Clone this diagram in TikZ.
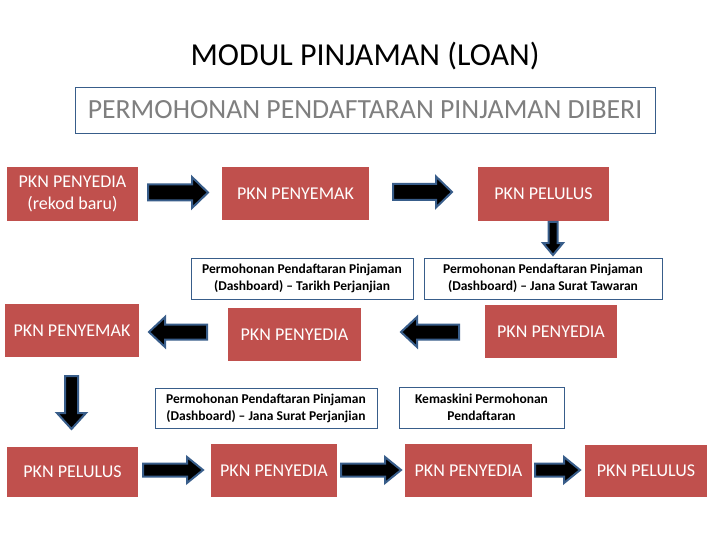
\documentclass[tikz,border=0pt]{standalone}
\usepackage{fontspec}
\setmainfont{Carlito}
\definecolor{boxred}{HTML}{C0504D}
\definecolor{edgeblue}{HTML}{385D8A}
\definecolor{titlegrey}{HTML}{7F7F7F}
\newcommand\harrowshape[6]{% x1, x2, cy, half head, half shaft, head length
  \pgfmathsetmacro\axb{#2>#1 ? #2-#6 : #2+#6}%
  \draw[blockarrow] (#1,#3-#5) -- (\axb,#3-#5) -- (\axb,#3-#4) -- (#2,#3)
    -- (\axb,#3+#4) -- (\axb,#3+#5) -- (#1,#3+#5) -- cycle;}
\newcommand\varrowshape[6]{% y1, y2, cx, half head, half shaft, head length
  \pgfmathsetmacro\ayb{#2>#1 ? #2-#6 : #2+#6}%
  \draw[blockarrow] (#3-#5,#1) -- (#3-#5,\ayb) -- (#3-#4,\ayb) -- (#3,#2)
    -- (#3+#4,\ayb) -- (#3+#5,\ayb) -- (#3+#5,#1) -- cycle;}
\begin{document}
\begin{tikzpicture}[x=1pt,y=-1pt,
  redbox/.style={fill=boxred, text=white, font=\fontsize{18}{22}\selectfont, align=center, inner sep=0pt},
  whitebox/.style={draw=edgeblue, line width=0.8pt, fill=white, font=\bfseries\fontsize{13.5}{17}\selectfont, align=center, inner sep=0pt},
  blockarrow/.style={fill=black, draw=edgeblue, line width=2pt, line join=miter}]
\useasboundingbox (0,0) rectangle (720,540);
\fill[white] (0,0) rectangle (720,540);

\node[font=\fontsize{32}{36}\selectfont] (title) at (365,56) {MODUL PINJAMAN (LOAN)};
\node[draw=edgeblue, line width=0.8pt, minimum width=580, minimum height=46, inner sep=0pt,
      text=titlegrey, font=\fontsize{27.7}{32}\selectfont] (sub) at (365,110) {PERMOHONAN PENDAFTARAN PINJAMAN DIBERI};

% row 1
\node[redbox, minimum width=131, minimum height=54] (a) at (72.5,194) {PKN PENYEDIA\\(rekod baru)};
\node[redbox, minimum width=147, minimum height=53] (b) at (295.5,193.5) {PKN PENYEMAK};
\node[redbox, minimum width=131, minimum height=54] (c) at (543.5,194) {PKN PELULUS};
\harrowshape{148}{208}{192.5}{15.5}{8}{16}
\harrowshape{393}{452}{192}{15.5}{8}{16}
\varrowshape{222}{255}{553}{10}{4.5}{12}

% row 2 notes
\node[whitebox, minimum width=222, minimum height=41] (d) at (302,278.5) {Permohonan Pendaftaran Pinjaman\\(Dashboard) -- Tarikh Perjanjian};
\node[whitebox, minimum width=238, minimum height=41] (e) at (543,278.5) {Permohonan Pendaftaran Pinjaman\\(Dashboard) -- Jana Surat Tawaran};

% row 2
\node[redbox, minimum width=132, minimum height=53] (f) at (551,331.5) {PKN PENYEDIA};
\node[redbox, minimum width=133, minimum height=53] (g) at (294.5,334.5) {PKN PENYEDIA};
\node[redbox, minimum width=134, minimum height=53] (h) at (72,330.5) {PKN PENYEMAK};
\harrowshape{459}{401}{332}{15}{7.5}{16}
\harrowshape{207}{149}{332}{15}{7.5}{16}
\varrowshape{376}{429}{71.5}{14.5}{6.5}{16}

% row 3 notes
\node[whitebox, minimum width=222, minimum height=40] (i) at (266,408) {Permohonan Pendaftaran Pinjaman\\(Dashboard) -- Jana Surat Perjanjian};
\node[whitebox, minimum width=165, minimum height=41] (j) at (481.5,407.5) {Kemaskini Permohonan\\Pendaftaran};

% row 3
\node[redbox, minimum width=131, minimum height=50] (k) at (72.5,472) {PKN PELULUS};
\node[redbox, minimum width=126, minimum height=53] (l) at (274,470.5) {PKN PENYEDIA};
\node[redbox, minimum width=127, minimum height=53] (m) at (468.5,470.5) {PKN PENYEDIA};
\node[redbox, minimum width=122, minimum height=52] (n) at (646,471) {PKN PELULUS};
\harrowshape{143}{203}{470}{13}{6.5}{16}
\harrowshape{341}{401}{470}{13}{6.5}{16}
\harrowshape{535}{580}{470}{13}{6.5}{16}
\end{tikzpicture}
\end{document}
